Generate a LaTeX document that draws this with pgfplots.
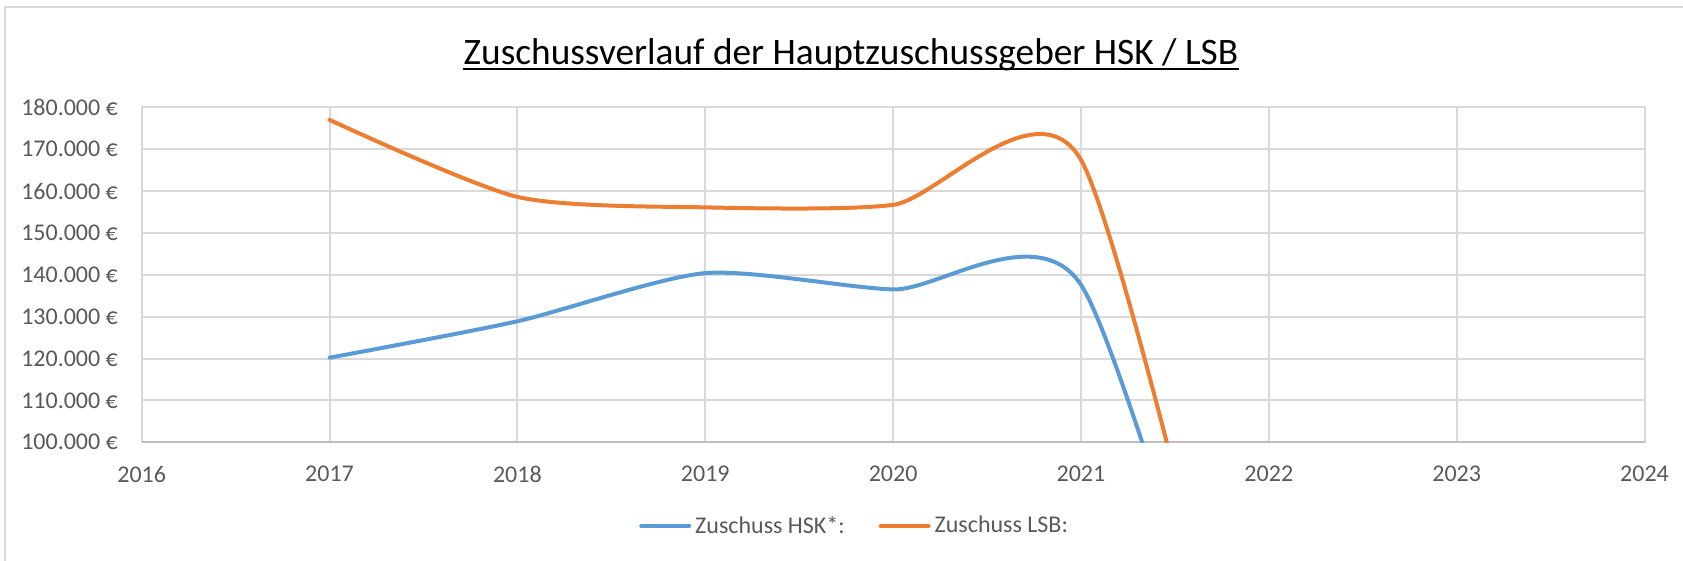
\documentclass[border=0pt]{standalone}
\usepackage{fontspec}
\setmainfont{Carlito}
\usepackage{pgfplots}
\pgfplotsset{compat=1.18}
\definecolor{gridc}{HTML}{D9D9D9}
\definecolor{axc}{HTML}{BFBFBF}
\definecolor{txtc}{HTML}{595959}
\definecolor{hsk}{HTML}{5B9BD5}
\definecolor{lsb}{HTML}{ED7D31}
\begin{document}
\begin{tikzpicture}
\path[use as bounding box] (0,0) rectangle (841.5pt,280.5pt);
\begin{scope}
\clip (0,0) rectangle (841.5pt,280.5pt);
\draw[gridc, line width=1pt] (2.5pt,-10pt) -- (2.5pt,277pt) -- (860pt,277pt);
\end{scope}
\node[anchor=base, font=\fontsize{18.67}{22}\selectfont, inner sep=0pt] (ttl) at (425.5pt,248pt) {Zuschussverlauf der Hauptzuschussgeber HSK / LSB};
\draw[black, line width=1.1pt] ([yshift=-2.2pt]ttl.base west) -- ([yshift=-2.2pt]ttl.base east);
\begin{axis}[
  at={(70.85pt,59.35pt)}, anchor=south west,
  scale only axis, width=751.5pt, height=167.5pt,
  xmin=2016, xmax=2024, ymin=100000, ymax=180000,
  xtick={2016,2017,...,2024},
  ytick={100000,110000,...,180000},
  yticklabels={100.000 €,110.000 €,120.000 €,130.000 €,140.000 €,150.000 €,160.000 €,170.000 €,180.000 €},
  xticklabel={\pgfmathprintnumber[1000 sep={}]{\tick}},
  /pgf/number format/assume math mode=true,
  scaled y ticks=false,
  major tick length=0pt,
  grid=major,
  major grid style={gridc, line width=1pt},
  axis line style={gridc, line width=1pt},
  ticklabel style={font=\fontsize{12}{14}\selectfont, text=txtc, inner sep=0pt},
  yticklabel style={anchor=east, xshift=-11.7pt},
  xticklabel style={anchor=north, yshift=-11.7pt},
  legend style={at={(0.475,-0.25)}, anchor=center, draw=none, fill=none,
    legend columns=2, font=\fontsize{12}{14}\selectfont, text=txtc,
    /tikz/every even column/.append style={column sep=14.9pt}},
  legend image code/.code={\draw[#1, line cap=round] (0pt,0pt) -- (24pt,0pt);},
  clip=true,
]
\draw[axc, line width=1pt] (rel axis cs:0,0) -- (rel axis cs:1,0);
\addplot[hsk, line width=2pt, smooth, tension=0.42, line cap=round] coordinates {
 (2017,120200) (2018,128900) (2019,140400) (2020,136500) (2021,137600) (2022,0)};
\addlegendentry{Zuschuss HSK*:}
\addplot[lsb, line width=2pt, smooth, tension=0.42, line cap=round] coordinates {
 (2017,177000) (2018,158600) (2019,156100) (2020,156700) (2021,167400) (2022,0)};
\addlegendentry{Zuschuss LSB:}
\end{axis}
\end{tikzpicture}
\end{document}
